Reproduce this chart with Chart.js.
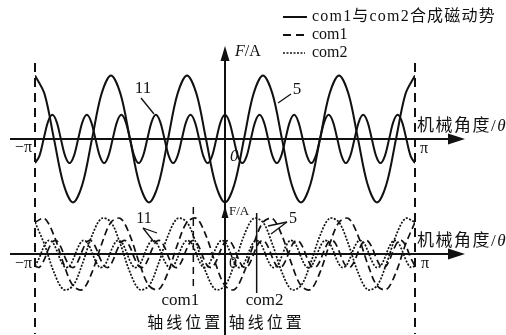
<!DOCTYPE html>
<html><head><meta charset="utf-8">
<script src="https://cdn.jsdelivr.net/npm/chart.js@4"></script>
<style>html,body{margin:0;padding:0;background:#fff;}canvas{display:block;}</style>
</head><body>
<canvas id="c" width="506" height="335"></canvas>
<script>
// ---- data (mechanical angle in degrees, MMF in relative units) ----
const angle5 = [-180,-171,-162,-153,-144,-135,-126,-117,-108,-99,-90,-81,-72,-63,-54,-45,-36,-27,-18,-9,
  0,9,18,27,36,45,54,63,72,81,90,99,108,117,126,135,144,153,162,171,180];
const angle11 = [-180,-175.9,-171.8,-167.7,-163.6,-159.5,-155.5,-151.4,-147.3,-143.2,-139.1,-135,-130.9,-126.8,-122.7,
  -118.6,-114.5,-110.5,-106.4,-102.3,-98.2,-94.1,-90,-85.9,-81.8,-77.7,-73.6,-69.5,-65.5,-61.4,-57.3,-53.2,-49.1,-45,
  -40.9,-36.8,-32.7,-28.6,-24.5,-20.5,-16.4,-12.3,-8.2,-4.1,0,4.1,8.2,12.3,16.4,20.5,24.5,28.6,32.7,36.8,40.9,45,
  49.1,53.2,57.3,61.4,65.5,69.5,73.6,77.7,81.8,85.9,90,94.1,98.2,102.3,106.4,110.5,114.5,118.6,122.7,126.8,130.9,
  135,139.1,143.2,147.3,151.4,155.5,159.5,163.6,167.7,171.8,175.9,180];
// combined MMF (com1 + com2), 5th harmonic
const sum5 = [1,0.71,0,-0.71,-1,-0.71,0,0.71, 1,0.71,0,-0.71,-1,-0.71,0,0.71, 1,0.71,0,-0.71,-1,-0.71,0,0.71,
  1,0.71,0,-0.71,-1,-0.71,0,0.71, 1,0.71,0,-0.71,-1,-0.71,0,0.71, 1];
// combined MMF, 11th harmonic
const sum11 = [-0.38,-0.27,0,0.27,0.38,0.27,0,-0.27, -0.38,-0.27,0,0.27,0.38,0.27,0,-0.27,
  -0.38,-0.27,0,0.27,0.38,0.27,0,-0.27, -0.38,-0.27,0,0.27,0.38,0.27,0,-0.27,
  -0.38,-0.27,0,0.27,0.38,0.27,0,-0.27, -0.38,-0.27,0,0.27,0.38,0.27,0,-0.27,
  -0.38,-0.27,0,0.27,0.38,0.27,0,-0.27, -0.38,-0.27,0,0.27,0.38,0.27,0,-0.27,
  -0.38,-0.27,0,0.27,0.38,0.27,0,-0.27, -0.38,-0.27,0,0.27,0.38,0.27,0,-0.27,
  -0.38,-0.27,0,0.27,0.38,0.27,0,-0.27, -0.38];
// com1 / com2, 5th harmonic
const com1H5 = [0.5,0.56,0.29,-0.15,-0.5,-0.56,-0.29,0.15, 0.5,0.56,0.29,-0.15,-0.5,-0.56,-0.29,0.15,
  0.5,0.56,0.29,-0.15,-0.5,-0.56,-0.29,0.15, 0.5,0.56,0.29,-0.15,-0.5,-0.56,-0.29,0.15,
  0.5,0.56,0.29,-0.15,-0.5,-0.56,-0.29,0.15, 0.5];
const com2H5 = [0.5,0.15,-0.29,-0.56,-0.5,-0.15,0.29,0.56, 0.5,0.15,-0.29,-0.56,-0.5,-0.15,0.29,0.56,
  0.5,0.15,-0.29,-0.56,-0.5,-0.15,0.29,0.56, 0.5,0.15,-0.29,-0.56,-0.5,-0.15,0.29,0.56,
  0.5,0.15,-0.29,-0.56,-0.5,-0.15,0.29,0.56, 0.5];
// com1 / com2, 11th harmonic
const com1H11 = [-0.19,-0.21,-0.11,0.06,0.19,0.21,0.11,-0.06, -0.19,-0.21,-0.11,0.06,0.19,0.21,0.11,-0.06,
  -0.19,-0.21,-0.11,0.06,0.19,0.21,0.11,-0.06, -0.19,-0.21,-0.11,0.06,0.19,0.21,0.11,-0.06,
  -0.19,-0.21,-0.11,0.06,0.19,0.21,0.11,-0.06, -0.19,-0.21,-0.11,0.06,0.19,0.21,0.11,-0.06,
  -0.19,-0.21,-0.11,0.06,0.19,0.21,0.11,-0.06, -0.19,-0.21,-0.11,0.06,0.19,0.21,0.11,-0.06,
  -0.19,-0.21,-0.11,0.06,0.19,0.21,0.11,-0.06, -0.19,-0.21,-0.11,0.06,0.19,0.21,0.11,-0.06,
  -0.19,-0.21,-0.11,0.06,0.19,0.21,0.11,-0.06, -0.19];
const com2H11 = [-0.19,-0.06,0.11,0.21,0.19,0.06,-0.11,-0.21, -0.19,-0.06,0.11,0.21,0.19,0.06,-0.11,-0.21,
  -0.19,-0.06,0.11,0.21,0.19,0.06,-0.11,-0.21, -0.19,-0.06,0.11,0.21,0.19,0.06,-0.11,-0.21,
  -0.19,-0.06,0.11,0.21,0.19,0.06,-0.11,-0.21, -0.19,-0.06,0.11,0.21,0.19,0.06,-0.11,-0.21,
  -0.19,-0.06,0.11,0.21,0.19,0.06,-0.11,-0.21, -0.19,-0.06,0.11,0.21,0.19,0.06,-0.11,-0.21,
  -0.19,-0.06,0.11,0.21,0.19,0.06,-0.11,-0.21, -0.19,-0.06,0.11,0.21,0.19,0.06,-0.11,-0.21,
  -0.19,-0.06,0.11,0.21,0.19,0.06,-0.11,-0.21, -0.19];
const xTickLabels = ['−π', '0', 'π'];
const axisTitleX = '机械角度/';
const axisTitleY = ['F', '/A'];
const legendLabels = ['com1与com2合成磁动势', 'com1', 'com2'];
const harmonicLabels = ['11', '5'];
const axisPosAngles = [-30, 30];
const axisPosLabels = ['com1', 'com2'];
const axisPosText = '轴线位置';

// ---- drawing ----
const INK = '#111111';
const SERIF = '"Liberation Serif", "Noto Sans CJK SC", serif';
const pts = (xs, ys) => xs.map((x, i) => ({x, y: ys[i]}));

function seg(ctx, x0, y0, x1, y1) { ctx.beginPath(); ctx.moveTo(x0, y0); ctx.lineTo(x1, y1); ctx.stroke(); }
function tri(ctx, p) { ctx.beginPath(); ctx.moveTo(p[0][0], p[0][1]); ctx.lineTo(p[1][0], p[1][1]); ctx.lineTo(p[2][0], p[2][1]); ctx.closePath(); ctx.fill(); }
function txt(ctx, s, x, y, font, align, base, spacing) {
  ctx.font = font; ctx.textAlign = align || 'left'; ctx.textBaseline = base || 'middle';
  ctx.letterSpacing = (spacing || 0) + 'px';
  ctx.fillText(s, x, y);
  ctx.letterSpacing = '0px';
}

const decor = {
  id: 'decor',
  beforeDatasetsDraw(chart) {
    const {ctx, scales: {x, yTop, yBot}} = chart;
    const X = v => x.getPixelForValue(v);
    const yt = yTop.getPixelForValue(0), yb = yBot.getPixelForValue(0);
    const xl = X(-180), xr = X(180), xc = X(0);
    ctx.save();
    ctx.strokeStyle = INK; ctx.fillStyle = INK; ctx.lineCap = 'butt';
    ctx.lineWidth = 2; ctx.setLineDash([9, 6]);
    seg(ctx, xl, 63, xl, 334); seg(ctx, xr, 63, xr, 334);
    ctx.setLineDash([]);
    [yt, yb].forEach(py => { seg(ctx, 10, py, 452, py); tri(ctx, [[465, py], [448, py - 5.5], [448, py + 5.5]]); });
    seg(ctx, xc, 335, xc, 56); tri(ctx, [[xc, 46], [xc - 4.5, 61], [xc + 4.5, 61]]);
    tri(ctx, [[xc, 206], [xc - 3.5, 218], [xc + 3.5, 218]]);
    ctx.lineWidth = 1.5; ctx.setLineDash([7, 5]);
    seg(ctx, X(axisPosAngles[0]), 207, X(axisPosAngles[0]), 291);
    ctx.setLineDash([]);
    seg(ctx, X(axisPosAngles[1]), 213, X(axisPosAngles[1]), 293);
    ctx.restore();
  },
  afterDraw(chart) {
    const {ctx, scales: {x, yTop, yBot}} = chart;
    const X = v => x.getPixelForValue(v);
    const yt = yTop.getPixelForValue(0), yb = yBot.getPixelForValue(0);
    const xl = X(-180), xr = X(180), xc = X(0);
    ctx.save();
    ctx.fillStyle = INK; ctx.strokeStyle = INK;
    const f16 = '16px ' + SERIF, f16i = 'italic 16px ' + SERIF;
    const f17 = '17px ' + SERIF, f17i = 'italic 17px ' + SERIF;
    // legend
    ctx.lineWidth = 2;
    seg(ctx, 283, 17, 307, 17);
    ctx.setLineDash([8, 5]); seg(ctx, 283, 35, 305, 35);
    ctx.lineWidth = 1.6; ctx.setLineDash([2, 1.5]); seg(ctx, 283, 53, 305, 53);
    ctx.setLineDash([]);
    txt(ctx, legendLabels[0], 312, 17, f16, 'left', 'middle', 1.2);
    txt(ctx, legendLabels[1], 312, 35, f16);
    txt(ctx, legendLabels[2], 312, 53, f16);
    // axis titles
    [yt - 12, yb - 12].forEach(py => {
      txt(ctx, axisTitleX, xr + 2, py, f17, 'left', 'middle', 1.5);
      ctx.font = f17; ctx.letterSpacing = '1.5px';
      const w = ctx.measureText(axisTitleX).width;
      ctx.letterSpacing = '0px';
      txt(ctx, 'θ', xr + 2 + w, py, f17i);
    });
    // tick labels
    txt(ctx, xTickLabels[0], xl - 3, yt + 9, f16, 'right');
    txt(ctx, xTickLabels[2], xr + 5, yt + 10, f16, 'left');
    txt(ctx, xTickLabels[1], xc + 5, yt + 18, f17i, 'left');
    txt(ctx, xTickLabels[0], xl - 3, yb + 10, f16, 'right');
    txt(ctx, xTickLabels[2], xr + 6, yb + 10, f16, 'left');
    txt(ctx, xTickLabels[1], xc + 4, yb + 10, f16, 'left');
    // F/A titles
    txt(ctx, axisTitleY[0], xc + 10, 52, f16i);
    ctx.font = f16i;
    const w = ctx.measureText(axisTitleY[0]).width;
    txt(ctx, axisTitleY[1], xc + 10 + w, 52, f16);
    txt(ctx, axisTitleY[0] + axisTitleY[1], xc + 4, 212, '13px ' + SERIF);
    // harmonic labels + leaders
    ctx.lineWidth = 1.3;
    txt(ctx, harmonicLabels[0], 143, 89, f17, 'center');
    seg(ctx, 141, 98, 154, 114);
    txt(ctx, harmonicLabels[1], 297, 90, f17, 'center');
    seg(ctx, 291, 94, 278, 103);
    txt(ctx, harmonicLabels[0], 144, 219, f16, 'center');
    seg(ctx, 143, 228, 157, 233); seg(ctx, 143, 228, 154, 242);
    txt(ctx, harmonicLabels[1], 293, 219, f16, 'center');
    seg(ctx, 287, 222, 268, 226); seg(ctx, 287, 222, 271, 234);
    // com axis position labels
    txt(ctx, axisPosLabels[0], X(axisPosAngles[0]) - 13, 301, f17, 'center');
    txt(ctx, axisPosLabels[1], X(axisPosAngles[1]) + 8, 301, f17, 'center');
    const cj = '16px "Noto Sans CJK SC", sans-serif';
    txt(ctx, axisPosText, X(axisPosAngles[0]) - 8, 322, cj, 'center', 'middle', 3);
    txt(ctx, axisPosText, X(axisPosAngles[1]) + 10, 322, cj, 'center', 'middle', 3);
    ctx.restore();
  }
};

const base = {pointRadius: 0, fill: false, borderColor: INK, tension: 0.33, xAxisID: 'x'};
new Chart(document.getElementById('c'), {
  type: 'line',
  data: {
    datasets: [
      {...base, label: 'sum5', data: pts(angle5, sum5), yAxisID: 'yTop', borderWidth: 2},
      {...base, label: 'sum11', data: pts(angle11, sum11), yAxisID: 'yTop', borderWidth: 2},
      {...base, label: 'com1-5', data: pts(angle5, com1H5), yAxisID: 'yBot', borderWidth: 1.7, borderDash: [7, 4]},
      {...base, label: 'com2-5', data: pts(angle5, com2H5), yAxisID: 'yBot', borderWidth: 1.7, borderDash: [2, 1.5]},
      {...base, label: 'com1-11', data: pts(angle11, com1H11), yAxisID: 'yBot', borderWidth: 1.7, borderDash: [7, 4]},
      {...base, label: 'com2-11', data: pts(angle11, com2H11), yAxisID: 'yBot', borderWidth: 1.7, borderDash: [2, 1.5]}
    ]
  },
  options: {
    responsive: false, animation: false, devicePixelRatio: 1,
    layout: {padding: {left: 35, right: 91, top: 40, bottom: 5}},
    plugins: {legend: {display: false}, tooltip: {enabled: false}},
    scales: {
      x: {type: 'linear', min: -180, max: 180, display: false},
      yTop: {type: 'linear', min: -3.008, max: 1.559, display: false},
      yBot: {type: 'linear', min: -1.197, max: 3.370, display: false}
    }
  },
  plugins: [decor]
});
</script>
</body></html>
